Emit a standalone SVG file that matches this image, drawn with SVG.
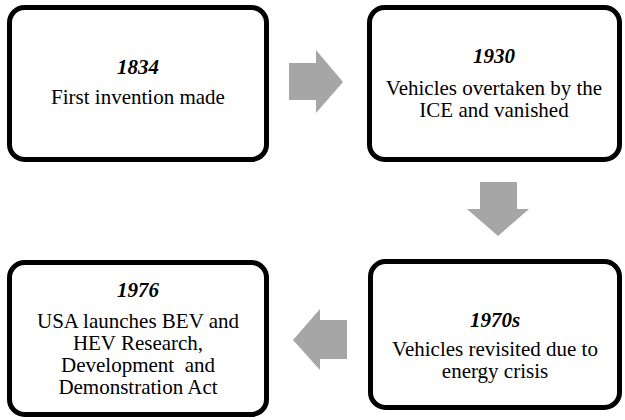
<svg xmlns="http://www.w3.org/2000/svg" width="625" height="420" viewBox="0 0 625 420">
<style>
.box{fill:#fff;stroke:#000;stroke-width:5}
.yr{font-family:"Liberation Serif","Times New Roman",serif;font-size:21px;font-weight:bold;font-style:italic;text-anchor:middle;fill:#000}
.tx{font-family:"Liberation Serif","Times New Roman",serif;font-size:21px;text-anchor:middle;fill:#000;white-space:pre}
.arr{fill:#a6a6a6}
</style>
<g id="connectors">
<polygon class="arr" points="289,63 316,63 316,50 343,82 316,113 316,100 289,100"/>
<polygon class="arr" points="480,182 517,182 517,209 529,209 498,236 467,209 480,209"/>
<polygon class="arr" points="347,320 320,320 320,309 293,340 320,370 320,359 347,359"/>
</g>
<g id="n1834">
<rect class="box" x="9.5" y="7.5" width="257" height="152" rx="15"/>
<text class="yr" x="138" y="74">1834</text>
<text class="tx" x="138" y="104">First invention made</text>
</g>
<g id="n1930">
<rect class="box" x="369.5" y="7.5" width="250" height="152" rx="15"/>
<text class="yr" x="494" y="63">1930</text>
<text class="tx" x="494" y="95">Vehicles overtaken by the</text>
<text class="tx" x="494" y="117">ICE and vanished</text>
</g>
<g id="n1970s">
<rect class="box" x="370.5" y="261.5" width="249" height="146" rx="15"/>
<text class="yr" x="495" y="327">1970s</text>
<text class="tx" x="495" y="356">Vehicles revisited due to</text>
<text class="tx" x="495" y="378">energy crisis</text>
</g>
<g id="n1976">
<rect class="box" x="9.5" y="262.5" width="257" height="152" rx="15"/>
<text class="yr" x="138" y="297">1976</text>
<text class="tx" x="138" y="328">USA launches BEV and</text>
<text class="tx" x="138" y="350">HEV Research,</text>
<text class="tx" x="138" y="372">Development  and</text>
<text class="tx" x="138" y="394">Demonstration Act</text>
</g>
</svg>
